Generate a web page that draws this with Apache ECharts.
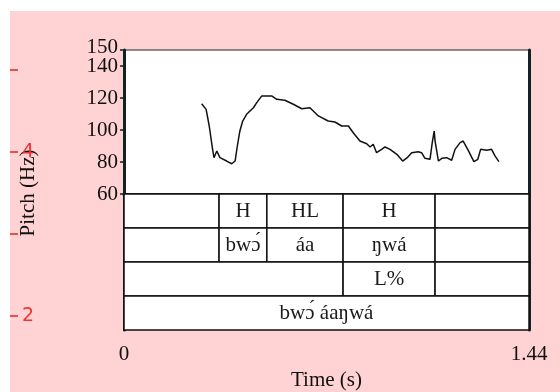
<!DOCTYPE html>
<html><head><meta charset="utf-8">
<script src="https://cdn.jsdelivr.net/npm/echarts@6/dist/echarts.min.js"></script>
<style>html,body{margin:0;padding:0;background:#fff}#c{width:560px;height:392px}</style>
</head><body><div id="c"></div>
<script>
// ---- data ----
const times = [0.276,0.292,0.303,0.315,0.320,0.330,0.341,0.365,0.383,0.395,0.403,0.412,0.422,0.436,0.460,0.472,0.490,0.525,0.543,0.572,0.602,0.632,0.661,0.673,0.691,0.726,0.750,0.774,0.798,0.815,0.839,0.863,0.875,0.886,0.898,0.916,0.928,0.946,0.970,0.991,1.007,1.023,1.046,1.058,1.070,1.088,1.096,1.103,1.106,1.112,1.118,1.130,1.147,1.165,1.177,1.195,1.206,1.224,1.244,1.258,1.268,1.290,1.295,1.307,1.319,1.333];
const pitch = [116.4,112.9,102.5,87.9,82.7,86.9,82.7,80.6,78.9,80.6,90.0,99.4,105.6,109.8,113.9,117.1,121.3,121.3,119.2,118.6,116.1,113.3,113.9,111.9,108.8,105.6,105.0,102.5,102.5,98.3,93.1,91.4,89.4,91.1,85.8,87.9,89.4,87.9,84.8,80.6,82.7,85.8,86.4,85.8,82.3,81.7,92.1,99.4,93.1,94.2,80.6,82.3,82.7,81.1,87.9,92.1,93.1,87.3,80.2,81.7,87.9,87.3,86.4,87.9,83.8,80.2];
const pitchTicks = [60,80,100,120,140];
const pitchTopTick = [150];
const timeTicks = [0,1.44];
const redTicks = [2,3,4,5];
const redLabels = [2,4];
const toneBounds = [0,0.338,0.508,0.779,1.106,1.44];
const toneLabels = ['','H','HL','H',''];
const syllBounds = [0,0.338,0.508,0.779,1.106,1.44];
const syllLabels = ['','bwɔ́','áa','ŋwá',''];
const breakBounds = [0,0.779,1.106,1.44];
const breakLabels = ['','L%',''];
const wordBounds = [0,1.44];
const wordLabels = ['bwɔ́ áaŋwá'];

// ---- build ----
const tiers = [[toneBounds,toneLabels],[syllBounds,syllLabels],[breakBounds,breakLabels],[wordBounds,wordLabels]];
const cells = [];
tiers.forEach(([b,l],row)=>{ for(let i=0;i<l.length;i++) cells.push({value:[b[i],b[i+1],row],label:l[i]}); });

const SERIF = "'Liberation Serif','Times New Roman',serif";
const DARK = '#112222';
const FS = 21;
const chart = echarts.init(document.getElementById('c'));
chart.setOption({
  animation:false,
  backgroundColor:'#fff',
  graphic:[{type:'rect',z:-10,shape:{x:10,y:11,width:550,height:381},style:{fill:'#ffd3d3'}}],
  grid:[
    {left:124,top:50,width:405,height:144,show:true,backgroundColor:'#fff',borderColor:'#222',borderWidth:1},
    {left:124,top:194,width:405,height:140,show:true,backgroundColor:'#fff',borderColor:'#222',borderWidth:0},
    {left:10,top:70,width:1,height:246}
  ],
  xAxis:[
    {gridIndex:0,type:'value',min:0,max:1.44,show:false},
    {gridIndex:1,type:'value',min:0,max:1.44,position:'bottom',
     axisLine:{show:true,lineStyle:{color:DARK,width:3}},
     axisTick:{show:false},splitLine:{show:false},
     axisLabel:{customValues:timeTicks,showMinLabel:true,showMaxLabel:true,color:'#111',fontFamily:SERIF,fontSize:FS,margin:14},
     name:'Time (s)',nameLocation:'middle',nameGap:40,nameMoveOverlap:false,nameTextStyle:{color:'#111',fontFamily:SERIF,fontSize:FS}},
    {gridIndex:2,type:'value',show:false}
  ],
  yAxis:[
    {gridIndex:0,type:'value',min:60,max:150,position:'left',
     axisLine:{show:true,lineStyle:{color:DARK,width:3}},
     axisTick:{show:true,length:4,customValues:pitchTicks,lineStyle:{color:DARK,width:1.5}},
     axisLabel:{customValues:pitchTicks,color:'#111',fontFamily:SERIF,fontSize:FS,margin:6},
     splitLine:{show:false}},
    {gridIndex:1,type:'value',min:0,max:4,inverse:true,position:'left',
     axisLine:{show:true,lineStyle:{color:DARK,width:3}},axisTick:{show:false},axisLabel:{show:false},splitLine:{show:false}},
    {gridIndex:2,type:'value',min:2,max:5,interval:1,position:'left',
     axisLine:{show:false},
     axisTick:{show:true,inside:true,length:8,customValues:redTicks,lineStyle:{color:'#e65050',width:2}},
     axisLabel:{inside:true,customValues:redLabels,color:'#ee3333',fontFamily:"'DejaVu Sans',sans-serif",fontSize:19,margin:12},
     splitLine:{show:false},
     name:'Pitch (Hz)',nameLocation:'middle',nameGap:-29,nameMoveOverlap:false,nameTextStyle:{color:'#111',fontFamily:SERIF,fontSize:FS}},
    {gridIndex:0,type:'value',min:60,max:150,position:'right',
     axisLine:{show:true,lineStyle:{color:DARK,width:3}},axisTick:{show:false},axisLabel:{show:false},splitLine:{show:false}},
    {gridIndex:1,type:'value',min:0,max:4,position:'right',
     axisLine:{show:true,lineStyle:{color:DARK,width:3}},axisTick:{show:false},axisLabel:{show:false},splitLine:{show:false}},
    {gridIndex:0,type:'value',min:60,max:150,position:'left',
     axisLine:{show:false},
     axisTick:{show:true,length:4,customValues:pitchTopTick,lineStyle:{color:DARK,width:1.5}},
     axisLabel:{customValues:pitchTopTick,color:'#111',fontFamily:SERIF,fontSize:FS,margin:6,verticalAlign:'bottom',padding:[0,0,-8,0]},
     splitLine:{show:false}}
  ],
  series:[
    {type:'line',xAxisIndex:0,yAxisIndex:0,data:times.map((t,i)=>[t,pitch[i]]),
     showSymbol:false,lineStyle:{color:'#111',width:1.5},z:5},
    {type:'custom',xAxisIndex:1,yAxisIndex:1,data:cells.map(c=>c.value),
     encode:{x:[0,1],y:2},
     renderItem:function(params,api){
       const s=api.value(0),e=api.value(1),r=api.value(2);
       const p0=api.coord([s,r]),p1=api.coord([e,r+1]);
       const x=Math.min(p0[0],p1[0]),y=Math.min(p0[1],p1[1]);
       const w=Math.abs(p1[0]-p0[0]),h=Math.abs(p1[1]-p0[1]);
       return {type:'group',children:[
         {type:'rect',shape:{x:x,y:y,width:w,height:h},style:{fill:'#fff',stroke:'#111',lineWidth:1.5}},
         {type:'text',style:{text:cells[params.dataIndex].label,x:x+w/2,y:y+h/2,align:'center',verticalAlign:'middle',
           fill:'#1a1a1a',font:FS+"px "+SERIF}}
       ]};
     }}
  ]
});
</script></body></html>
